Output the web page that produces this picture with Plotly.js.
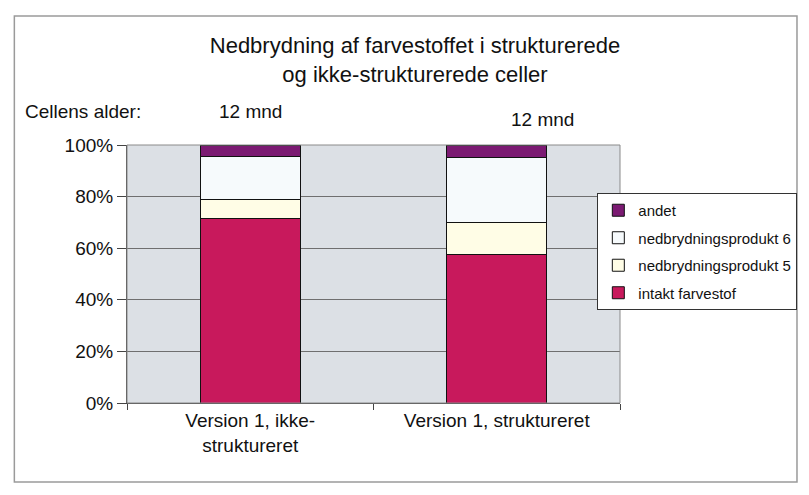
<!DOCTYPE html>
<html>
<head>
<meta charset="utf-8">
<script src="https://cdn.plot.ly/plotly-3.0.1.min.js"></script>
<style>html,body{margin:0;padding:0;background:#fff;}#chart{width:809px;height:495px;}</style>
</head>
<body>
<div id="chart"></div>
<script>
const categories = ["Version 1, ikke-<br>struktureret", "Version 1, struktureret"];
const seriesNames = ["intakt farvestof", "nedbrydningsprodukt 5", "nedbrydningsprodukt 6", "andet"];
const intakt = [71.5, 57.5];
const produkt5 = [7.5, 12.5];
const produkt6 = [16.5, 25];
const andet = [4.5, 5];
const ageLabels = ["12 mnd", "12 mnd"];
const yTicks = [0, 20, 40, 60, 80, 100];
const yTickText = ["0%", "20%", "40%", "60%", "80%", "100%"];

const seriesValues = [intakt, produkt5, produkt6, andet];
const colors = ["#C8195C", "#FFFDE6", "#F6FAFC", "#7B1A72"];

const traces = seriesValues.map((vals, i) => ({
  type: "bar",
  name: seriesNames[i],
  x: categories,
  y: vals,
  legendgroup: "g" + i,
  legendrank: 1000 - i,
  marker: {color: colors[i], line: {color: "#111", width: 1}},
  hoverinfo: "name+y"
}));

const layout = {
  width: 809, height: 495,
  margin: {l: 127, r: 183, t: 145, b: 92},
  paper_bgcolor: "#ffffff",
  plot_bgcolor: "#DCE0E5",
  barmode: "stack",
  bargap: 0.595,
  font: {family: "Liberation Sans, Arial, sans-serif", color: "#111"},
  title: {
    text: "Nedbrydning af farvestoffet i strukturerede<br>og ikke-strukturerede celler",
    font: {size: 22, family: "Liberation Sans, Arial, sans-serif", color: "#111"},
    x: 0.513, xanchor: "center", xref: "container",
    y: 0.893, yanchor: "middle", yref: "container"
  },
  xaxis: {
    showgrid: false, showline: true, linecolor: "#444", linewidth: 1,
    ticks: "outside", tickson: "boundaries", ticklen: 6, tickcolor: "#444",
    tickfont: {size: 19}, zeroline: false, automargin: false
  },
  yaxis: {
    range: [0, 100], tickvals: yTicks, ticktext: yTickText,
    showgrid: true, gridcolor: "#6f6f6f", gridwidth: 1,
    showline: true, linecolor: "#444", linewidth: 1,
    ticks: "outside", ticklen: 9, tickcolor: "#444",
    tickfont: {size: 19}, zeroline: false, automargin: false
  },
  legend: {
    x: 0.954, xanchor: "left", y: 0.814, yanchor: "top",
    bgcolor: "#ffffff", bordercolor: "#333", borderwidth: 1,
    font: {size: 15, family: "Liberation Sans, Arial, sans-serif", color: "#111"},
    traceorder: "grouped", tracegroupgap: 5
  },
  shapes: [
    {type: "rect", xref: "paper", yref: "paper", x0: 0, x1: 1, y0: 0, y1: 1,
     line: {color: "#8a8a8a", width: 1}, layer: "above"},
    {type: "rect", xref: "paper", yref: "paper", x0: -0.2285, x1: 1.359, y0: -0.306, y1: 1.5,
     line: {color: "#9a9a9a", width: 1.5}, layer: "below"}
  ],
  annotations: [
    {text: "Cellens alder:", xref: "paper", yref: "paper", x: -0.21, y: 1.128,
     xanchor: "left", yanchor: "middle", showarrow: false, font: {size: 19}},
    {text: ageLabels[0], xref: "x", yref: "paper", x: categories[0], y: 1.128,
     xanchor: "center", yanchor: "middle", showarrow: false, font: {size: 19}},
    {text: ageLabels[1], xref: "x", yref: "paper", x: categories[1], y: 1.097,
     xanchor: "center", yanchor: "middle", xshift: 46, showarrow: false, font: {size: 19}}
  ]
};

Plotly.newPlot("chart", traces, layout, {displayModeBar: false, staticPlot: true});
</script>
</body>
</html>
